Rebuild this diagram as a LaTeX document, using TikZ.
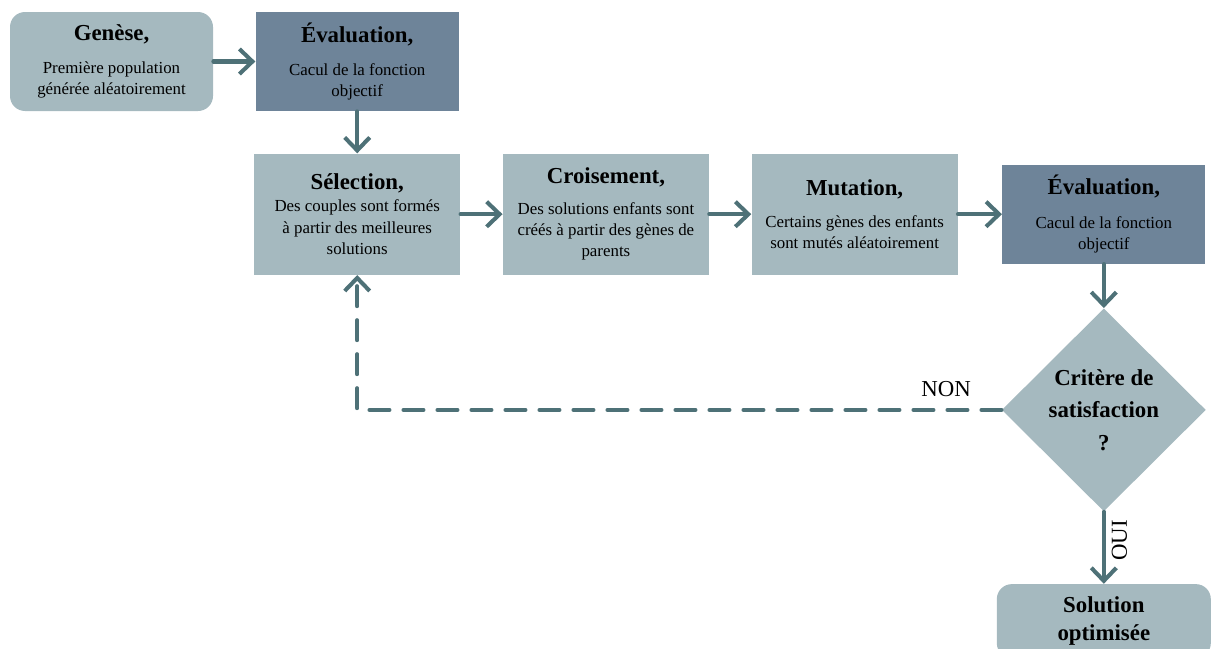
\documentclass[tikz,border=0pt]{standalone}
\usepackage{fontspec}
\setmainfont{Liberation Serif}
\usetikzlibrary{positioning, arrows.meta, shapes.geometric, calc}

\definecolor{bleuclair}{HTML}{A5B9BF}
\definecolor{bleufonce}{HTML}{6E8499}
\definecolor{trait}{HTML}{4E7177}

\newcommand{\titre}[1]{{\fontsize{13}{15}\selectfont\bfseries #1}}

\begin{document}
\begin{tikzpicture}[
    etape/.style={fill=bleuclair, minimum width=4.12cm, minimum height=2.42cm, align=center, font=\fontsize{9.6}{12}\selectfont},
    evalbox/.style={etape, fill=bleufonce, minimum width=4.06cm, minimum height=1.98cm},
    bout/.style={etape, rounded corners=0.3cm, minimum width=4.06cm, minimum height=1.98cm},
    test/.style={diamond, fill=bleuclair, minimum width=4.08cm, minimum height=4.06cm, inner sep=0pt, align=center, font=\fontsize{13}{18.5}\selectfont\bfseries},
    fleche/.style={-{Straight Barb[length=2.6mm, width=5mm]}, line width=2.3pt, trait, line cap=round},
    retour/.style={fleche, dash pattern=on 0.4cm off 0.28cm},
    mot/.style={font=\fontsize{13}{15}\selectfont, text=black},
    node distance=0.84cm and 0.84cm
  ]
  \useasboundingbox (0,0) rectangle (24.26,-12.96);

  % ligne du haut
  \node[bout] (genese) at (2.23,-1.23) {\titre{Genèse,}\\[7pt] Première population\\générée aléatoirement};
  \node[evalbox, right=of genese] (eval1) {\titre{Évaluation,}\\[7pt] Cacul de la fonction\\objectif};

  % boucle
  \node[etape, below=of eval1] (select) {\titre{Sélection,}\\[0.5pt] Des couples sont formés\\à partir des meilleures\\solutions};
  \node[etape, right=of select] (crois) {\titre{Croisement,}\\[5.5pt] Des solutions enfants sont\\créés à partir des gènes de\\parents};
  \node[etape, right=of crois] (mutat) {\titre{Mutation,}\\[6pt] Certains gènes des enfants\\sont mutés aléatoirement};
  \node[evalbox, right=0.88cm of mutat] (eval2) {\titre{Évaluation,}\\[7pt] Cacul de la fonction\\objectif};

  % test d'arret
  \node[test, below=0.88cm of eval2] (critere) {Critère de\\satisfaction\\?};
  \node[bout, below=1.44cm of critere, minimum width=4.28cm, minimum height=1.48cm, font=\fontsize{13}{15.5}\selectfont\bfseries] (solution) {Solution\\optimisée};

  \draw[fleche] (genese) -- (eval1);
  \draw[fleche] (eval1) -- (select);
  \draw[fleche] (select) -- (crois);
  \draw[fleche] (crois) -- (mutat);
  \draw[fleche] (mutat) -- (eval2);
  \draw[fleche] (eval2) -- (critere);
  \draw[fleche] (critere) -- node[mot, pos=0.4, rotate=90, anchor=north] (oui) {OUI} (solution);
  \draw[retour] (critere.west) -- node[mot, pos=0.086, above=3pt] (non) {NON} (critere.west -| select.south) -- (select.south);
\end{tikzpicture}
\end{document}
